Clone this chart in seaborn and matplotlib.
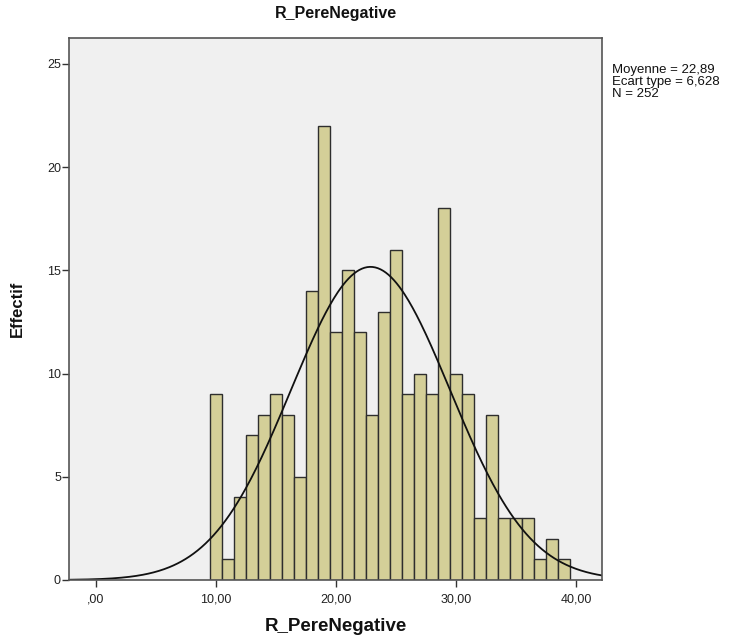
import numpy as np
import pandas as pd
import matplotlib
matplotlib.use("Agg")
import matplotlib.pyplot as plt
import seaborn as sns

# Data
bin_centers = [10, 11, 12, 13, 14, 15, 16, 17, 18, 19,
               20, 21, 22, 23, 24, 25, 26, 27, 28, 29,
               30, 31, 32, 33, 34, 35, 36, 37, 38, 39]
counts = [9, 1, 4, 7, 8, 9, 8, 5, 14, 22,
          12, 15, 12, 8, 13, 16, 9, 10, 9, 18,
          10, 9, 3, 8, 3, 3, 3, 1, 2, 1]
mean_val = 22.89
sd_val = 6.628
n_val = 252
x_ticks = [0, 10, 20, 30, 40]
x_tick_labels = [",00", "10,00", "20,00", "30,00", "40,00"]
y_ticks = [0, 5, 10, 15, 20, 25]
title = "R_PereNegative"
x_label = "R_PereNegative"
y_label = "Effectif"
stats_text = "Moyenne = 22,89\nEcart type = 6,628\nN = 252"

sns.set_theme(style="white")
plt.rcParams['font.family'] = ['Liberation Sans', 'DejaVu Sans']

fig = plt.figure(figsize=(7.29, 6.43), dpi=100)
ax = fig.add_axes([0.0951, 0.0980, 0.8262 - 0.0951, 0.9414 - 0.0980])
ax.set_facecolor("#F0F0F0")

df = pd.DataFrame({"x": bin_centers, "w": counts})
sns.histplot(data=df, x="x", weights="w", binwidth=1,
             binrange=(min(bin_centers) - 0.5, max(bin_centers) + 0.5), ax=ax,
             color="#D4CF98", edgecolor="#2E2E2E", linewidth=1.0, alpha=1.0)

# Normal curve scaled to counts (bin width 1)
xs = np.linspace(-2.2, 42.2, 400)
ys = n_val * 1.0 / (sd_val * np.sqrt(2 * np.pi)) * np.exp(-0.5 * ((xs - mean_val) / sd_val) ** 2)
sns.lineplot(x=xs, y=ys, ax=ax, color="#111111", linewidth=1.3)

ax.set_xlim(-2.2, 42.2)
ax.set_ylim(0, 26.27)
ax.set_xticks(x_ticks)
ax.set_xticklabels(x_tick_labels)
ax.set_yticks(y_ticks)
ax.tick_params(axis="both", direction="out", length=5, width=1, color="#333333",
               labelsize=9, labelcolor="#222222", bottom=True, left=True)
ax.tick_params(axis="x", pad=5)
ax.tick_params(axis="y", pad=1)
for s in ax.spines.values():
    s.set_color("#555555")
    s.set_linewidth(1.2)

ax.set_xlabel(x_label, fontsize=13.5, fontweight="bold", color="#111111", labelpad=9)
ax.set_ylabel(y_label, fontsize=12, fontweight="bold", color="#111111", labelpad=16)
ax.set_title(title, fontsize=11.5, fontweight="bold", color="#111111", pad=14)

fig.text(612 / 729, 1 - 64 / 643, stats_text,
         fontsize=9.5, color="#111111", va="top", ha="left", linespacing=1.0)

fig.savefig("out.png", dpi=100)
